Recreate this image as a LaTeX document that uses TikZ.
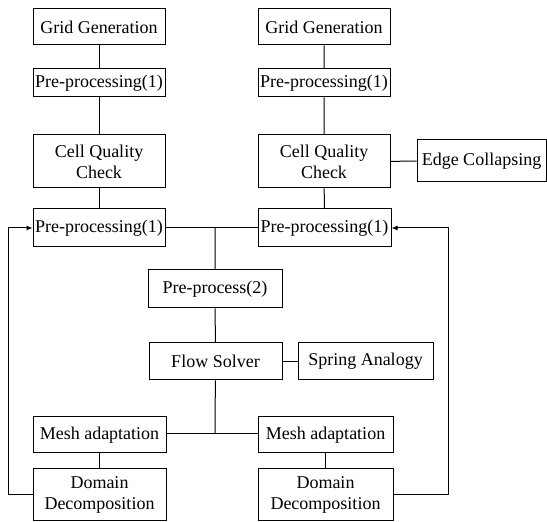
\documentclass[tikz,border=0pt]{standalone}
\usepackage{fontspec}
\setmainfont{Liberation Serif}
\usetikzlibrary{arrows.meta}
\begin{document}
\begin{tikzpicture}[x=0.5pt,y=-0.5pt,
  blk/.style={draw,line width=0.5pt,align=center,inner sep=0pt,
    font=\fontsize{9}{10.5}\selectfont},
  lnk/.style={line width=0.5pt},
  back/.style={line width=0.5pt,-{Latex[length=3pt,width=2.5pt]}}]
\useasboundingbox (0,0) rectangle (547,522);
% left column
\node (gridL) at (99,27) [blk,minimum width=66pt,minimum height=18pt] {Grid Generation};
\node (preL) at (99,83) [blk,minimum width=66pt,minimum height=14pt] {Pre-processing(1)};
\node (cellL) at (99,161.5) [blk,minimum width=66pt,minimum height=26.5pt] {Cell Quality\\Check};
\node (preLL) at (99,228) [blk,minimum width=66pt,minimum height=19pt] {Pre-processing(1)};
% right column
\node (gridR) at (324,27) [blk,minimum width=66pt,minimum height=18pt] {Grid Generation};
\node (preR) at (324,83) [blk,minimum width=66pt,minimum height=14pt] {Pre-processing(1)};
\node (cellR) at (324,161.5) [blk,minimum width=66pt,minimum height=26.5pt] {Cell Quality\\Check};
\node (edge) at (481.5,161) [blk,minimum width=64.5pt,minimum height=21pt] {Edge Collapsing};
\node (preRR) at (324.5,228) [blk,minimum width=66.5pt,minimum height=19pt] {Pre-processing(1)};
% middle
\node (pre2) at (215,289) [blk,minimum width=67pt,minimum height=19pt] {Pre-process(2)};
\node (flow) at (215.5,361.5) [blk,minimum width=66.5pt,minimum height=18.5pt] {Flow Solver};
\node (spring) at (365.5,361.5) [blk,minimum width=67.5pt,minimum height=18.5pt] {Spring Analogy};
% bottom
\node (meshL) at (99.5,435) [blk,minimum width=66.5pt,minimum height=18pt] {Mesh adaptation};
\node (domL) at (99.5,495) [blk,minimum width=66.5pt,minimum height=26pt] {Domain\\Decomposition};
\node (meshR) at (325.5,435) [blk,minimum width=67.5pt,minimum height=18pt] {Mesh adaptation};
\node (domR) at (325.5,495) [blk,minimum width=67.5pt,minimum height=26pt] {Domain\\Decomposition};
\coordinate (top) at (215,228);
\coordinate (bot) at (215,434);
\coordinate (loopL) at (8,0);
\coordinate (loopR) at (448,0);
\draw[lnk] (gridL) -- (preL) -- (cellL) -- (preLL);
\draw[lnk] (gridR) -- (preR) -- (cellR) -- (preRR);
\draw[lnk] (cellR) -- (edge);
\draw[lnk] (preLL) -- (preRR);
\draw[lnk] (top) -- (pre2) -- (flow) -- (bot);
\draw[lnk] (flow) -- (spring);
\draw[lnk] (meshL.east |- bot) -- (meshR.west |- bot);
\draw[lnk] (meshL) -- (domL);
\draw[lnk] (meshR) -- (domR);
\draw[back] (domL.west) -| (loopL |- preLL) -- (preLL.west);
\draw[back] (domR.east) -| (loopR |- preRR) -- (preRR.east);
\end{tikzpicture}
\end{document}
